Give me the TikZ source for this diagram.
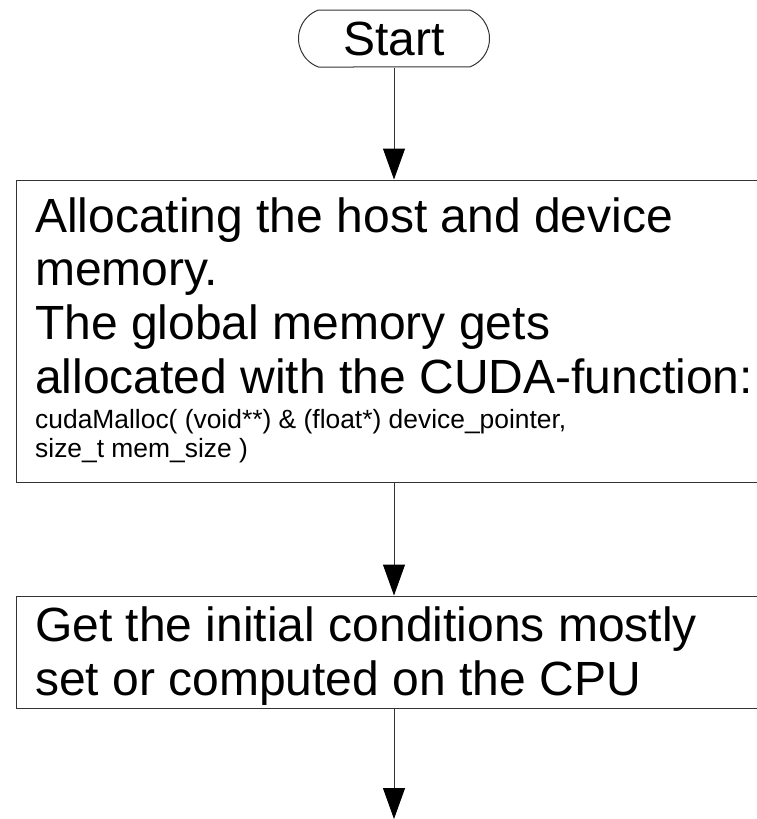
\documentclass[tikz,border=0pt]{standalone}
\usepackage{fontspec}
\setmainfont{Liberation Sans}
\usetikzlibrary{arrows.meta,shapes.misc}
\begin{document}
\begin{tikzpicture}[x=1pt,y=-1pt,
  lineclr/.style={draw=black!80, line width=1pt},
  flow/.style={lineclr, -{Triangle[width=22pt,length=31pt,color=black]}},
  terminal/.style={lineclr, rounded rectangle, rounded rectangle arc length=140, minimum width=191pt, minimum height=57pt, inner sep=0pt, font=\fontsize{48}{54}\selectfont},
  boxshape/.style={lineclr, rectangle, minimum width=756pt, inner sep=0pt},
  bigtext/.style={font=\fontsize{48}{53.6}\selectfont, align=left, inner sep=0pt, anchor=base west},
  smalltext/.style={font=\fontsize{26.4}{28.5}\selectfont, align=left, inner sep=0pt, anchor=base west}]
\useasboundingbox (0,0) rectangle (757,819);
\clip (0,0) rectangle (757,819);
\node[terminal] (start) at (394,38.5) {Start};
\node[boxshape, minimum height=302pt] (alloc) at (394,331) {};
\node[bigtext] (alloctext) at (35,393) {Allocating the host and device\\memory.\\The global memory gets\\allocated with the CUDA-function:};
\node[smalltext] (calltext) at (35,457) {cudaMalloc( (void**) \& (float*) device\_pointer,\\size\_t mem\_size )};
\node[boxshape, minimum height=112pt] (init) at (394,652) {};
\node[bigtext] (inittext) at (35,695) {Get the initial conditions mostly\\set or computed on the CPU};
\coordinate (end) at (394,819);
\draw[flow] (start.south) -- (alloc.north);
\draw[flow] (alloc.south) -- (init.north);
\draw[flow] (init.south) -- (end);
\end{tikzpicture}
\end{document}
